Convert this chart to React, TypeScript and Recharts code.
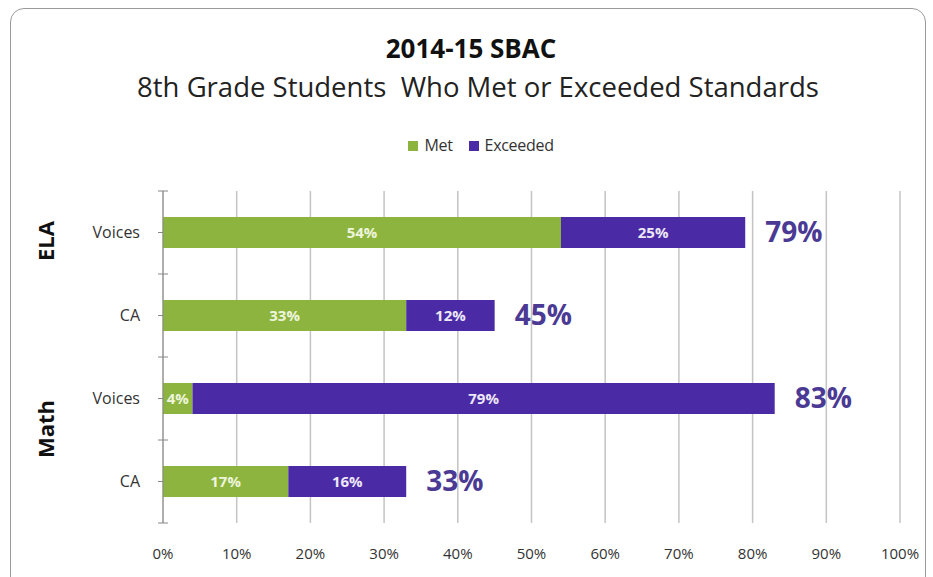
import { BarChart, Bar, XAxis, YAxis, CartesianGrid, LabelList } from "recharts"

const groups = ["ELA", "ELA", "Math", "Math"]
const schools = ["Voices", "CA", "Voices", "CA"]
const met = [54, 33, 4, 17]
const exceeded = [25, 12, 79, 16]
const xTicks = [0, 10, 20, 30, 40, 50, 60, 70, 80, 90, 100]
const seriesNames = ["Met", "Exceeded"]

const GREEN = "#8cb43f"
const PURPLE = "#4b2aa6"
const FONT = "'Open Sans', 'Noto Sans', sans-serif"

const data = schools.map((s, i) => ({
  key: `${groups[i]}-${s}`,
  school: s,
  met: met[i],
  exceeded: exceeded[i],
  total: met[i] + exceeded[i],
}))

const TOP = 191
const BOTTOM = 523
const AXIS_X = 163
const BAND = (BOTTOM - TOP) / data.length

// category tick: label, short center tick, and band-boundary cross ticks
function CategoryTick(props: any) {
  const { x, y, payload, index } = props
  const label = String(payload.value).split("-")[1]
  const top = y - BAND / 2
  return (
    <g>
      <text x={x - 15} y={y} dy={5} textAnchor="end" fontSize={16} fill="#333" fontFamily={FONT}>
        {label}
      </text>
      <line x1={AXIS_X - 5} x2={AXIS_X} y1={y} y2={y} stroke="#888" />
      <line x1={AXIS_X - 5} x2={AXIS_X + 5} y1={top} y2={top} stroke="#888" />
      {index === data.length - 1 && (
        <line x1={AXIS_X - 5} x2={AXIS_X + 5} y1={y + BAND / 2} y2={y + BAND / 2} stroke="#888" />
      )}
    </g>
  )
}

export default function App() {
  const colors = [GREEN, PURPLE]
  return (
    <div style={{ position: "absolute", left: 0, top: 0, width: 933, height: 577, background: "#fff", overflow: "hidden" }}>
      <div
        style={{
          position: "absolute",
          left: 10,
          top: 8,
          width: 914,
          height: 590,
          border: "1.5px solid #9a9a9a",
          borderRadius: 14,
        }}
      />
      <div style={{ position: "absolute", left: 0, width: 942, top: 30, textAlign: "center", fontFamily: FONT, fontWeight: 700, fontSize: 26, lineHeight: "36px", color: "#111" }}>
        2014-15 SBAC
      </div>
      <div style={{ position: "absolute", left: 0, width: 956, top: 69, textAlign: "center", fontFamily: FONT, fontSize: 27.5, lineHeight: "36px", color: "#222" }}>
        8th Grade Students&nbsp; Who Met or Exceeded Standards
      </div>
      <div style={{ position: "absolute", left: 0, width: 962, top: 135, textAlign: "center", fontFamily: FONT, fontSize: 16, lineHeight: "20px", color: "#333", letterSpacing: -0.3 }}>
        {seriesNames.map((n, i) => (
          <span key={n} style={{ marginRight: i === 0 ? 16 : 0 }}>
            <span style={{ display: "inline-block", width: 10, height: 10, background: colors[i], marginRight: 6 }} />
            {n}
          </span>
        ))}
      </div>
      <div style={{ position: "absolute", left: 45, top: 241, transform: "translate(-50%, -50%) rotate(-90deg)", fontFamily: FONT, fontWeight: 700, fontSize: 22, color: "#111" }}>
        ELA
      </div>
      <div style={{ position: "absolute", left: 45, top: 429, transform: "translate(-50%, -50%) rotate(-90deg)", fontFamily: FONT, fontWeight: 700, fontSize: 22, color: "#111" }}>
        Math
      </div>
      <div style={{ position: "absolute", left: 0, top: 0 }}>
        <BarChart
          width={933}
          height={577}
          data={data}
          layout="vertical"
          margin={{ top: TOP, right: 933 - 900, bottom: 577 - BOTTOM - 30, left: 0 }}
          barSize={31}
        >
          <CartesianGrid horizontal={false} stroke="#c4c4c4" strokeWidth={1.5} />
          <XAxis
            type="number"
            domain={[0, 100]}
            ticks={xTicks}
            tickFormatter={(v) => `${v}%`}
            axisLine={false}
            tickLine={false}
            height={30}
            tick={{ fontSize: 15, fill: "#333", fontFamily: FONT, dy: 17 }}
            interval={0}
          />
          <YAxis
            type="category"
            dataKey="key"
            width={AXIS_X}
            axisLine={{ stroke: "#888" }}
            tickLine={false}
            tick={<CategoryTick />}
            interval={0}
          />
          <Bar dataKey="met" name="Met" stackId="a" fill={GREEN} isAnimationActive={false}>
            <LabelList
              dataKey="met"
              position="center"
              formatter={(v: any) => `${v}%`}
              fill="#eef5dc"
              fontSize={15}
              fontWeight={700}
              fontFamily={FONT}
            />
          </Bar>
          <Bar dataKey="exceeded" name="Exceeded" stackId="a" fill={PURPLE} isAnimationActive={false}>
            <LabelList
              dataKey="exceeded"
              position="center"
              formatter={(v: any) => `${v}%`}
              fill="#ece8f8"
              fontSize={15}
              fontWeight={700}
              fontFamily={FONT}
            />
            <LabelList
              dataKey="total"
              position="right"
              offset={20}
              formatter={(v: any) => `${v}%`}
              fill="#4b3a94"
              fontSize={28}
              fontWeight={700}
              fontFamily={FONT}
            />
          </Bar>
        </BarChart>
      </div>
    </div>
  )
}
